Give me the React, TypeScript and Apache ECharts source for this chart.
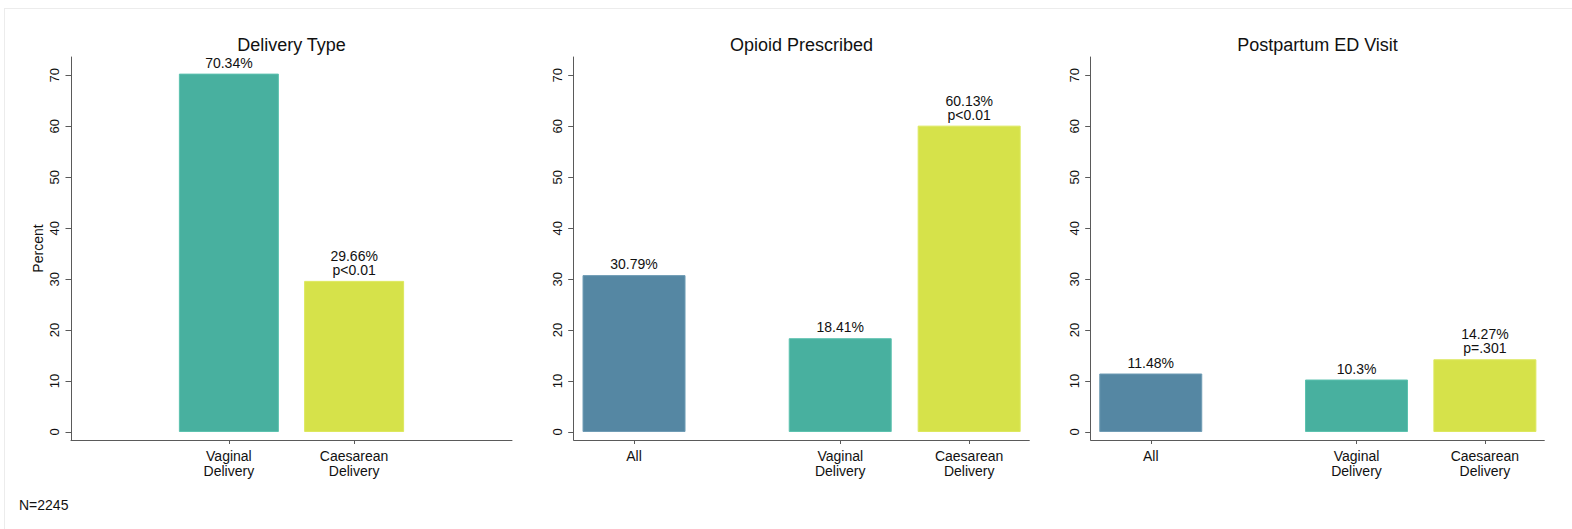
import React, { useEffect, useRef } from "react";
import * as echarts from "echarts";

// ---- data ----
const PANEL_TITLES = ["Delivery Type", "Opioid Prescribed", "Postpartum ED Visit"];
const DELIVERY_CATS = ["Vaginal\nDelivery", "Caesarean\nDelivery"];
const DELIVERY_VALUES = [70.34, 29.66];
const DELIVERY_NOTES = ["", "p<0.01"];
const OPIOID_CATS = ["All", "Vaginal\nDelivery", "Caesarean\nDelivery"];
const OPIOID_VALUES = [30.79, 18.41, 60.13];
const OPIOID_NOTES = ["", "", "p<0.01"];
const ED_CATS = ["All", "Vaginal\nDelivery", "Caesarean\nDelivery"];
const ED_VALUES = [11.48, 10.3, 14.27];
const ED_NOTES = ["", "", "p=.301"];
const Y_TICKS = [0, 10, 20, 30, 40, 50, 60, 70];
const Y_TITLE = "Percent";
const FOOTNOTE = "N=2245";

// ---- styles / layout ----
const FONT = "'Liberation Sans', Arial, Helvetica, sans-serif";
const TEXT = "#111111";
const AXIS = "#5a5a5a";
const COLOR_BY_CAT: Record<string, { fill: string; border: string }> = {
  All: { fill: "#5587a3", border: "#6f9cb5" },
  "Vaginal\nDelivery": { fill: "#48b09f", border: "#5cc2af" },
  "Caesarean\nDelivery": { fill: "#d6e24a", border: "#dde85e" },
};
const Y_MIN = -1.57;
const Y_MAX = 73.6;
const GRID_TOP = 57;
const GRID_HEIGHT = 383;
const PANELS = [
  { left: 71, width: 441, slots: [0.358, 0.642], barWidth: 100, cats: DELIVERY_CATS, values: DELIVERY_VALUES, notes: DELIVERY_NOTES },
  { left: 573.7, width: 455.6, slots: [0.1324, 0.585, 0.868], barWidth: 103, cats: OPIOID_CATS, values: OPIOID_VALUES, notes: OPIOID_NOTES },
  { left: 1090.7, width: 453.6, slots: [0.1324, 0.586, 0.869], barWidth: 103, cats: ED_CATS, values: ED_VALUES, notes: ED_NOTES },
];

export default function App() {
  const ref = useRef<HTMLDivElement>(null);

  useEffect(() => {
    if (!ref.current) return;
    const chart = echarts.init(ref.current, undefined, { renderer: "svg" });

    const grid = PANELS.map((p) => ({
      left: p.left,
      top: GRID_TOP,
      width: p.width,
      height: GRID_HEIGHT,
      containLabel: false,
    }));

    const xAxis = PANELS.map((p, gi) => ({
      type: "value",
      gridIndex: gi,
      min: 0,
      max: 1,
      splitLine: { show: false },
      axisLine: { show: true, onZero: false, lineStyle: { color: AXIS, width: 1 } },
      axisTick: { show: true, length: 4, customValues: p.slots, lineStyle: { color: AXIS } },
      axisLabel: {
        show: true,
        customValues: p.slots,
        margin: 8,
        fontSize: 14,
        lineHeight: 15,
        color: TEXT,
        fontFamily: FONT,
        formatter: (v: number) => {
          const i = p.slots.findIndex((s) => Math.abs(s - v) < 1e-6);
          return i >= 0 ? p.cats[i] : "";
        },
      },
    }));

    const yAxis = PANELS.map((p, gi) => ({
      type: "value",
      gridIndex: gi,
      min: Y_MIN,
      max: Y_MAX,
      name: gi === 0 ? Y_TITLE : "",
      nameLocation: "middle",
      nameGap: 26,
      nameTextStyle: { fontSize: 14, color: TEXT, fontFamily: FONT },
      splitLine: { show: false },
      axisLine: { show: true, onZero: false, lineStyle: { color: AXIS, width: 1 } },
      axisTick: { show: true, length: 5.5, customValues: Y_TICKS, lineStyle: { color: AXIS } },
      axisLabel: {
        show: true,
        customValues: Y_TICKS,
        rotate: 90,
        margin: 10,
        fontSize: 13,
        color: TEXT,
        fontFamily: FONT,
      },
    }));

    const series = PANELS.map((p, gi) => ({
      type: "bar",
      xAxisIndex: gi,
      yAxisIndex: gi,
      barWidth: p.barWidth,
      data: p.values.map((v, i) => ({
        value: [p.slots[i], v],
        itemStyle: {
          color: COLOR_BY_CAT[p.cats[i]].fill,
          borderColor: COLOR_BY_CAT[p.cats[i]].border,
          borderWidth: 1,
        },
      })),
      label: {
        show: true,
        position: "top",
        distance: 4,
        fontSize: 14,
        lineHeight: 14,
        color: TEXT,
        fontFamily: FONT,
        formatter: (params: any) => {
          const i = params.dataIndex;
          const v = p.values[i];
          return p.notes[i] ? `${v}%\n${p.notes[i]}` : `${v}%`;
        },
      },
    }));

    const graphic: any[] = [
      { type: "line", shape: { x1: 4, y1: 8.5, x2: 1572, y2: 8.5 }, style: { stroke: "#ececec", lineWidth: 1 }, silent: true },
      { type: "line", shape: { x1: 4.5, y1: 8, x2: 4.5, y2: 529 }, style: { stroke: "#ececec", lineWidth: 1 }, silent: true },
      ...PANELS.map((p, gi) => ({
        type: "text",
        x: p.left + p.width / 2,
        y: 44.5,
        style: {
          text: PANEL_TITLES[gi],
          fontSize: 18,
          fontFamily: FONT,
          fill: TEXT,
          align: "center",
          verticalAlign: "middle",
        },
      })),
      {
        type: "text",
        x: 19,
        y: 505,
        style: { text: FOOTNOTE, fontSize: 14, fontFamily: FONT, fill: TEXT, align: "left", verticalAlign: "middle" },
      },
    ];

    chart.setOption({
      animation: false,
      backgroundColor: "#ffffff",
      grid,
      xAxis,
      yAxis,
      series,
      graphic,
    } as any);

    return () => chart.dispose();
  }, []);

  return (
    <div
      ref={ref}
      style={{ position: "absolute", left: 0, top: 0, width: 1572, height: 529 }}
    />
  );
}
